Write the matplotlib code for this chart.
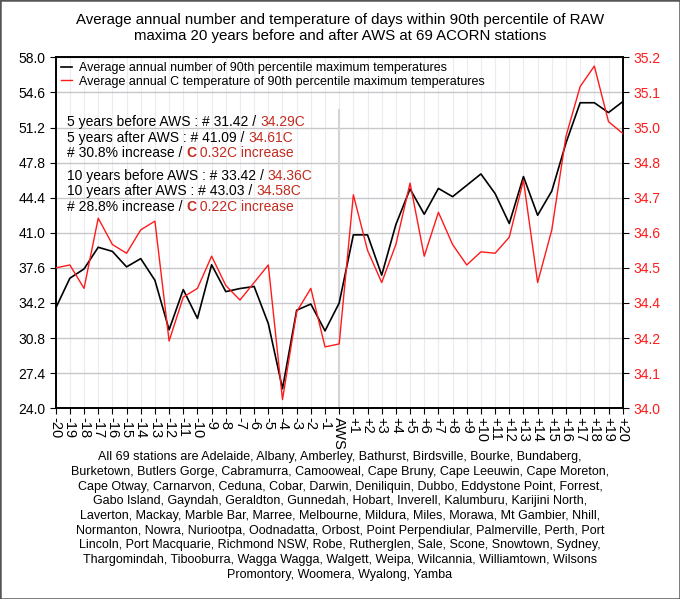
import numpy as np
import matplotlib
matplotlib.use('Agg')
import matplotlib.pyplot as plt
from matplotlib.patches import Rectangle

plt.rcParams['font.family'] = ['Liberation Sans', 'DejaVu Sans']

# x categories: years relative to the AWS introduction
years = ['-%d' % i for i in range(20, 0, -1)] + ['AWS'] + ['+%d' % i for i in range(1, 21)]

# average annual number of days in 90th percentile (left axis)
black_num = [33.7, 36.6, 37.5, 39.6, 39.2, 37.7, 38.5, 36.4, 31.6, 35.5,
             32.7, 37.9, 35.3, 35.6, 35.8, 32.2, 25.9, 33.5, 34.1, 31.5,
             34.2,
             40.8, 40.8, 36.9, 41.8, 45.25, 42.8, 45.3, 44.5, 45.6, 46.7,
             44.8, 41.9, 46.45, 42.7, 45.05, 49.7, 53.6, 53.6, 52.65, 53.7]

# average annual C temperature of 90th percentile max (right axis)
red_temp = [34.48, 34.49, 34.41, 34.65, 34.56, 34.53, 34.61, 34.64, 34.23, 34.38,
            34.41, 34.52, 34.42, 34.37, 34.43, 34.49, 34.03, 34.33, 34.41, 34.21,
            34.22,
            34.73, 34.54, 34.43, 34.56, 34.77, 34.52, 34.67, 34.56, 34.49, 34.535,
            34.53, 34.585, 34.78, 34.43, 34.61, 34.93, 35.10, 35.17, 34.98, 34.94]

left_ticks = [24.0, 27.4, 30.8, 34.2, 37.6, 41.0, 44.4, 47.8, 51.2, 54.6, 58.0]
right_ticks = [34.0, 34.12, 34.24, 34.36, 34.48, 34.6, 34.72, 34.84, 34.96, 35.08, 35.2]
right_labels = ['34.0', '34.1', '34.2', '34.4', '34.5', '34.6', '34.7', '34.8', '35.0', '35.1', '35.2']

title = ('Average annual number and temperature of days within 90th percentile of RAW\n'
         'maxima 20 years before and after AWS at 69 ACORN stations')

stations = ('All 69 stations are Adelaide, Albany, Amberley, Bathurst, Birdsville, Bourke, Bundaberg,\n'
            'Burketown, Butlers Gorge, Cabramurra, Camooweal, Cape Bruny, Cape Leeuwin, Cape Moreton,\n'
            'Cape Otway, Carnarvon, Ceduna, Cobar, Darwin, Deniliquin, Dubbo, Eddystone Point, Forrest,\n'
            'Gabo Island, Gayndah, Geraldton, Gunnedah, Hobart, Inverell, Kalumburu, Karijini North,\n'
            'Laverton, Mackay, Marble Bar, Marree, Melbourne, Mildura, Miles, Morawa, Mt Gambier, Nhill,\n'
            'Normanton, Nowra, Nuriootpa, Oodnadatta, Orbost, Point Perpendiular, Palmerville, Perth, Port\n'
            'Lincoln, Port Macquarie, Richmond NSW, Robe, Rutherglen, Sale, Scone, Snowtown, Sydney,\n'
            'Thargomindah, Tibooburra, Wagga Wagga, Walgett, Weipa, Wilcannia, Williamtown, Wilsons\n'
            'Promontory, Woomera, Wyalong, Yamba')

RED = '#ff1a1a'
TXTRED = '#c42b1f'

fig = plt.figure(figsize=(6.8, 5.99), dpi=100)
ax = fig.add_axes([0.0819, 0.3184, 0.8338, 0.5859])
ax2 = ax.twinx()

x = np.arange(len(years))

# grid
for xi in x:
    ax.axvline(xi, color='#ececf0', lw=0.8, zorder=0)
for yt in left_ticks:
    ax.axhline(yt, color='#c8c8cc', lw=1.0, zorder=0)
ax.plot([20, 20], [24.0, 52.9], color='#d4d4d4', lw=1.5, zorder=1)

l1, = ax.plot(x, black_num, color='black', lw=1.2, zorder=3)
l2, = ax2.plot(x, red_temp, color=RED, lw=1.0, zorder=3)

ax.set_xlim(0, 40)
ax.set_ylim(24, 58)
ax2.set_ylim(34.0, 35.2)
ax.set_xticks(x)
ax.set_xticklabels(years, rotation=-90, fontsize=10.5)
ax.set_yticks(left_ticks)
ax.set_yticklabels(['%.1f' % v for v in left_ticks], fontsize=10)
ax2.set_yticks(right_ticks)
ax2.set_yticklabels(right_labels, fontsize=10, color=RED)
ax.tick_params(axis='x', length=4, pad=2)
ax.tick_params(axis='y', length=4)
ax2.tick_params(axis='y', length=4)
for sp in list(ax.spines.values()) + list(ax2.spines.values()):
    sp.set_linewidth(1.2)

leg = ax2.legend([l1, l2],
                 ['Average annual number of 90th percentile maximum temperatures',
                  'Average annual C temperature of 90th percentile maximum temperatures'],
                 loc='upper left', frameon=False, fontsize=9, handlelength=0.9,
                 handletextpad=0.6, borderaxespad=0.1, borderpad=0.3, labelspacing=0.12)

# annotations with mixed colours
lines = [
    [('5 years before AWS : # 31.42 / ', 'black', 'normal'), ('34.29C', TXTRED, 'normal')],
    [('5 years after AWS : # 41.09 / ', 'black', 'normal'), ('34.61C', TXTRED, 'normal')],
    [('# 30.8% increase / ', 'black', 'normal'), ('C', TXTRED, 'bold'), (' 0.32C increase', TXTRED, 'normal')],
    [('10 years before AWS : # 33.42 / ', 'black', 'normal'), ('34.36C', TXTRED, 'normal')],
    [('10 years after AWS : # 43.03 / ', 'black', 'normal'), ('34.58C', TXTRED, 'normal')],
    [('# 28.8% increase / ', 'black', 'normal'), ('C', TXTRED, 'bold'), (' 0.22C increase', TXTRED, 'normal')],
]
ys = [121.7, 137.7, 153.3, 175.7, 190.7, 206.7]
pieces = []
for parts, yp in zip(lines, ys):
    first = True
    for s, c, w in parts:
        t = fig.text(67 / 680, 1 - yp / 599, s, color=c, fontweight=w,
                     fontsize=10, va='center', ha='left')
        pieces.append((t, first, yp))
        first = False

# lay out chained pieces horizontally
fig.canvas.draw()
r = fig.canvas.get_renderer()
cur_x = None
for t, first, yp in pieces:
    if not first:
        t.set_position((cur_x, 1 - yp / 599))
    bb = t.get_window_extent(renderer=r)
    cur_x = bb.x1 / fig.bbox.width

fig.text(0.5, 1 - 28 / 599, title, ha='center', va='center', fontsize=10.8, linespacing=1.15)
fig.text(0.5, 1 - 516 / 599, stations, ha='center', va='center', fontsize=9, linespacing=1.3)

fig.patches.append(Rectangle((0, 0), 1, 1, transform=fig.transFigure, fill=False,
                             edgecolor='#555555', lw=1.8))

fig.savefig('out.png', dpi=100)
